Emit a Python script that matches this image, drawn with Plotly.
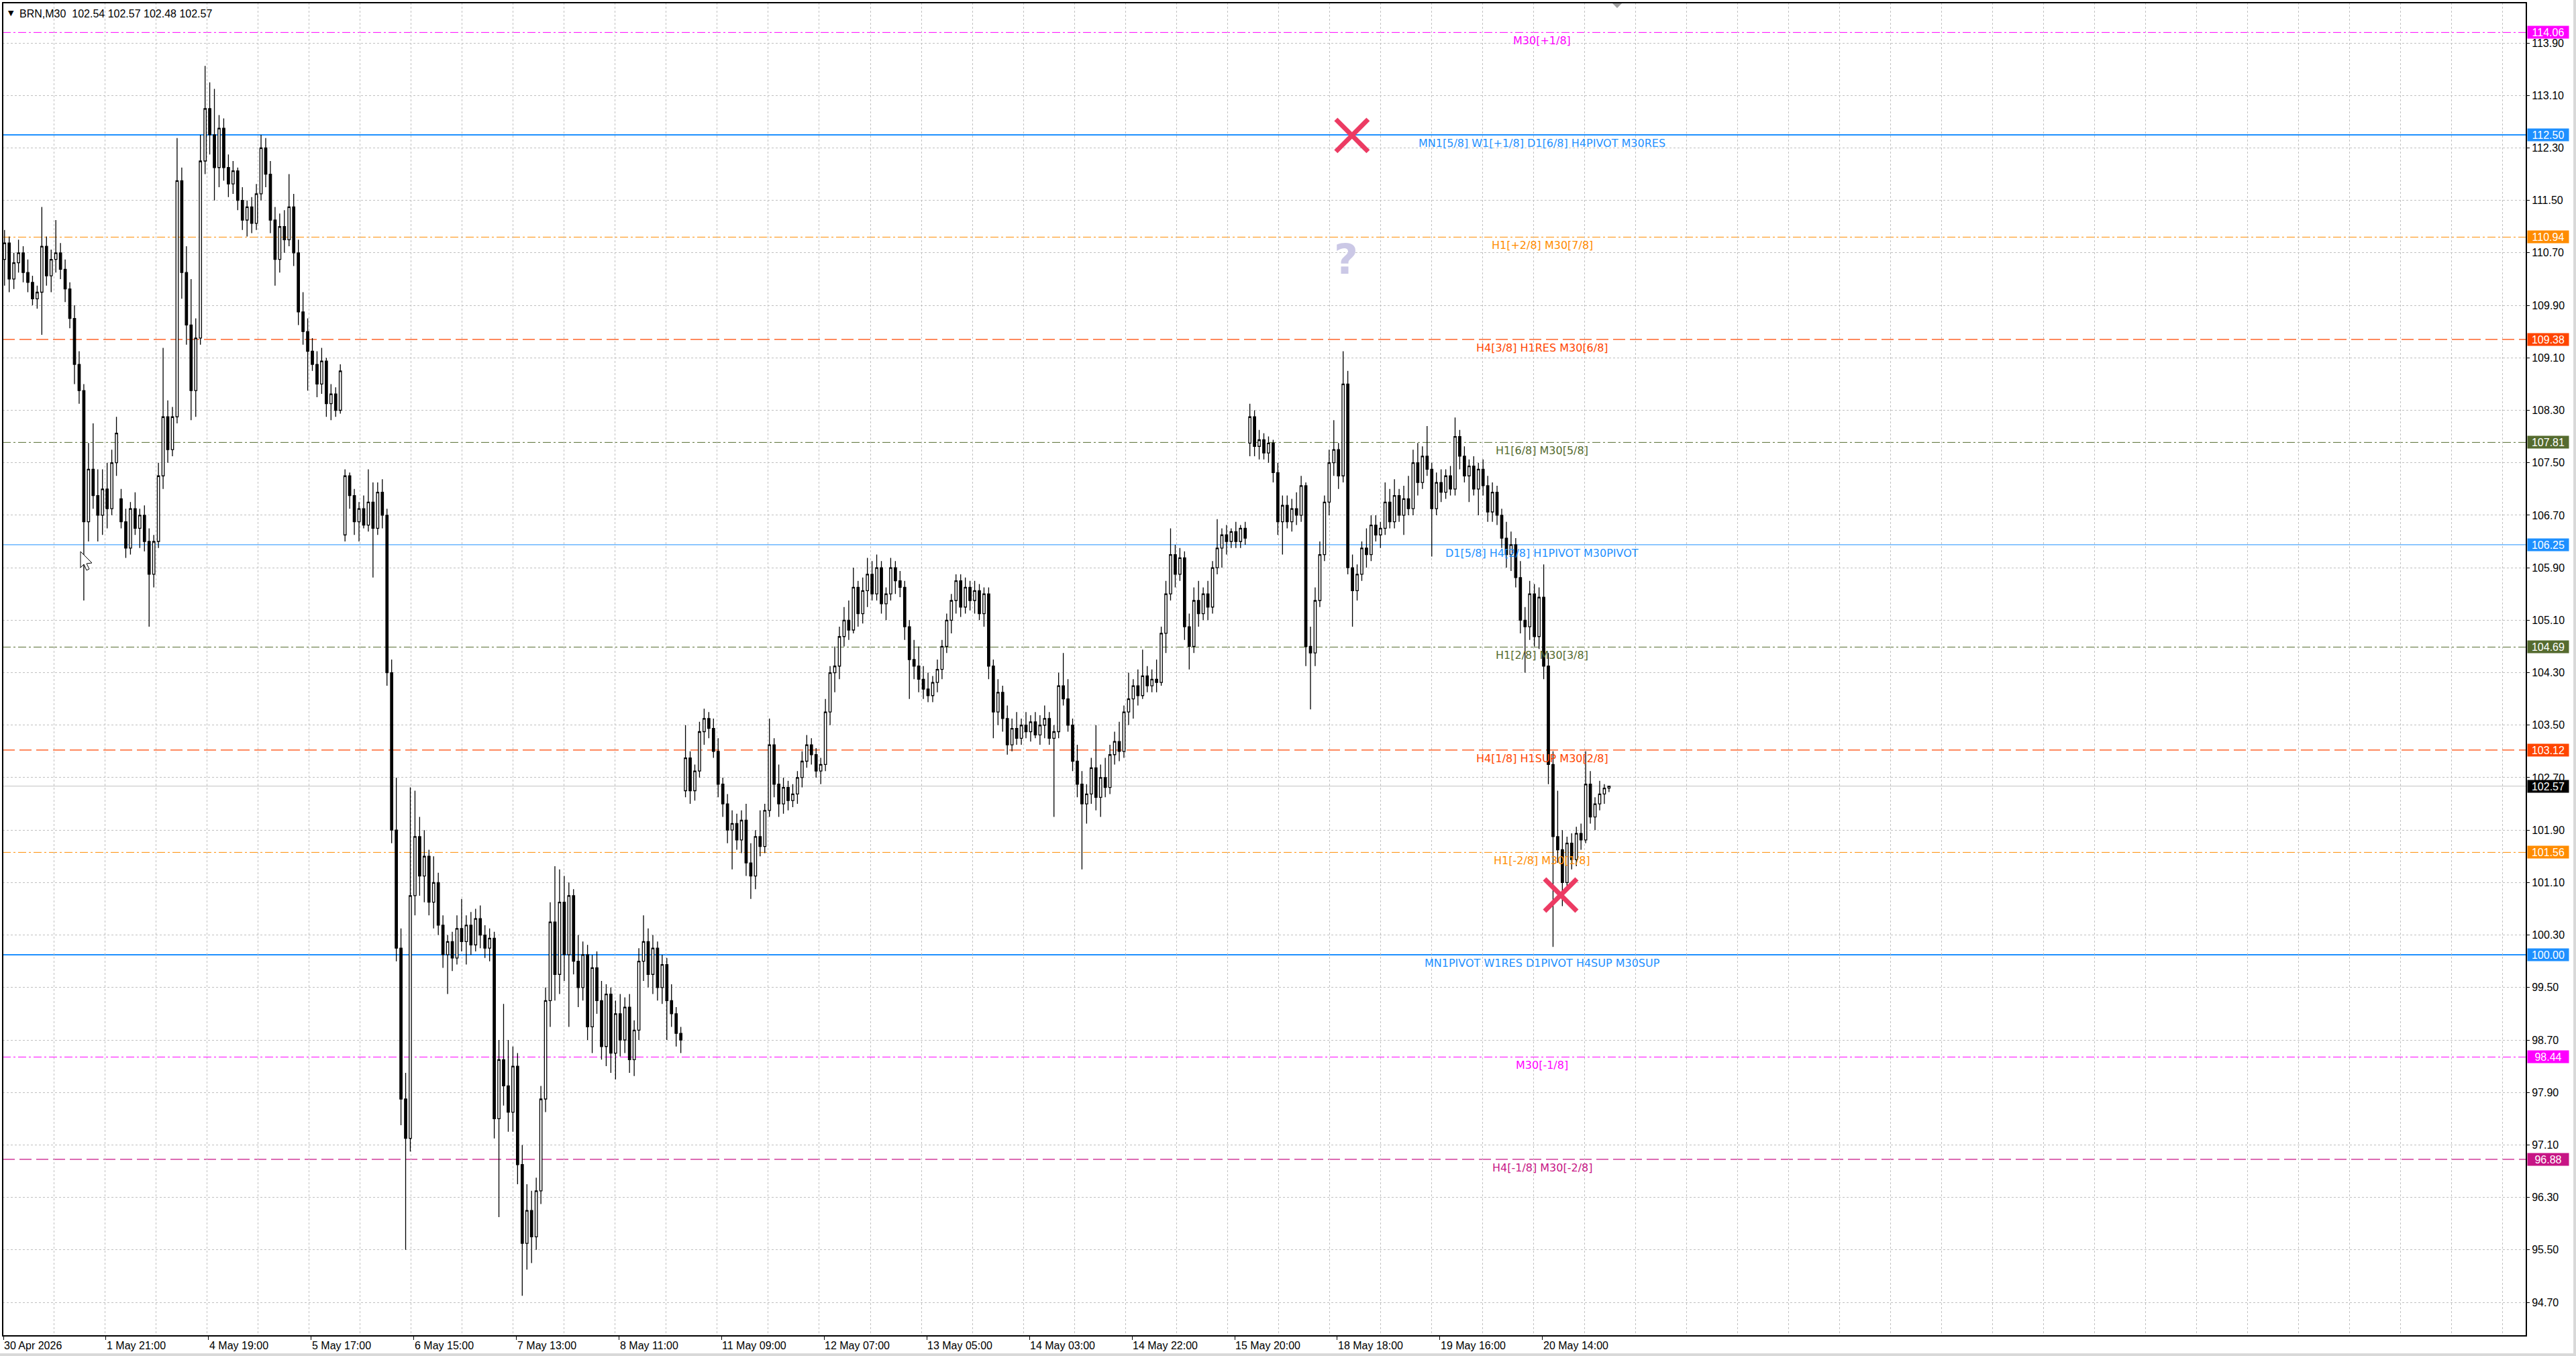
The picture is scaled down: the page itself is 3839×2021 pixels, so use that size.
import plotly.graph_objects as go

# ---------------- data (BRN, M30 — one candle per two M30 bars, last one is the live bar) -------------
opens = [
    110.60,110.85,110.30,110.55,110.70,110.40,110.25,110.00,110.10,110.80,
    110.35,110.60,110.70,110.45,110.15,109.70,109.00,108.60,106.60,107.40,
    107.00,106.70,107.10,106.80,107.50,106.95,106.60,106.20,106.80,106.50,
    106.70,106.30,105.80,106.30,107.30,108.20,107.70,108.20,111.80,110.40,
    109.60,108.60,109.40,112.10,112.90,112.50,112.00,112.60,112.00,111.75,
    111.95,111.50,111.20,111.40,111.15,111.60,112.30,111.90,111.20,110.60,
    111.10,110.90,111.40,110.70,109.80,109.50,109.20,109.00,108.70,109.05,
    108.40,108.55,108.30,106.40,107.30,107.00,106.60,106.80,106.55,106.90,
    106.50,107.05,106.70,104.30,101.90,100.10,97.80,97.20,100.90,101.80,
    101.20,101.50,100.80,101.10,100.45,100.00,100.20,99.95,100.40,100.20,
    100.45,100.15,100.55,100.30,100.10,100.25,97.50,98.40,98.00,97.60,
    98.30,96.80,95.60,96.10,95.70,96.40,97.80,99.30,100.50,99.70,
    100.80,100.00,100.90,99.90,99.50,100.00,98.90,99.80,99.30,98.60,
    99.40,98.50,99.10,98.70,99.20,98.40,98.85,99.90,100.20,99.70,
    100.10,99.50,99.85,99.30,99.10,98.80,102.50,103.00,102.50,102.80,
    103.40,103.60,103.45,103.10,102.60,102.30,101.90,102.00,101.75,102.05,
    101.40,101.20,101.80,101.65,102.20,103.20,102.60,102.30,102.55,102.35,
    102.45,102.70,102.95,103.20,103.05,102.80,102.90,103.70,104.30,104.40,
    104.85,105.10,104.95,105.60,105.20,105.55,105.80,105.50,105.90,105.35,
    105.50,105.90,105.70,105.60,105.00,104.50,104.40,104.20,104.05,103.95,
    104.15,104.35,104.70,105.10,105.40,105.70,105.30,105.60,105.40,105.55,
    105.20,105.50,104.40,103.70,104.00,103.60,103.20,103.45,103.30,103.50,
    103.40,103.55,103.35,103.50,103.60,103.30,103.40,104.10,103.90,103.50,
    102.95,102.60,102.30,102.45,102.85,102.40,102.70,102.55,103.05,103.25,
    103.10,103.70,103.90,104.10,103.95,104.25,104.10,104.20,104.15,104.90,
    105.50,106.10,105.80,106.05,105.00,104.70,105.40,105.20,105.50,105.30,
    105.90,106.20,106.40,106.30,106.45,106.30,106.50,107.80,108.20,107.75,
    107.85,107.65,107.80,107.35,106.60,106.85,106.60,106.80,106.70,107.15,
    104.70,104.60,105.40,106.10,106.90,107.50,107.70,107.30,108.70,105.90,
    105.55,105.80,106.20,106.10,106.55,106.40,106.50,106.90,106.60,107.00,
    106.70,106.95,106.80,107.50,107.20,107.60,107.40,106.80,107.20,107.05,
    107.30,107.10,107.90,107.60,107.30,107.45,107.10,107.40,107.15,106.75,
    107.05,106.70,106.35,106.10,106.25,105.75,105.10,105.00,105.50,104.85,
    105.45,104.40,102.90,101.80,101.60,101.10,101.70,101.45,101.85,101.75,
    102.60,102.10,102.30,102.45,102.54,
]
highs = [
    111.05,110.95,110.70,110.90,110.80,110.60,110.35,110.20,111.40,110.95,
    110.75,111.20,110.85,110.60,110.25,109.90,109.20,108.70,107.80,108.10,
    107.40,107.40,107.50,107.70,108.20,107.10,106.80,106.90,107.05,106.80,
    106.85,106.50,106.40,107.50,109.25,108.45,108.35,112.45,112.00,110.80,
    110.30,109.70,112.50,113.55,113.30,113.20,112.80,112.75,112.20,112.10,
    112.00,111.70,111.50,111.55,111.75,112.50,112.45,112.10,111.40,111.30,
    111.35,111.90,111.60,110.90,110.10,109.70,109.40,109.20,109.25,109.10,
    108.70,108.65,109.00,107.40,107.35,107.10,106.90,107.00,107.40,107.20,
    107.20,107.25,106.80,104.50,102.70,100.40,98.20,102.55,102.50,102.10,
    101.90,101.60,101.50,101.25,100.60,100.30,100.35,100.60,100.85,100.60,
    100.65,100.70,100.75,100.45,100.40,100.35,98.70,99.25,98.70,98.60,
    98.50,97.10,96.50,96.40,96.60,98.00,99.50,100.80,101.35,101.30,
    101.20,101.10,101.00,100.30,100.20,100.15,100.00,100.05,99.60,99.55,
    99.50,99.30,99.40,99.35,99.40,99.00,100.10,100.60,100.40,100.30,
    100.20,100.00,99.95,99.55,99.20,98.90,103.50,103.10,102.90,103.55,
    103.75,103.70,103.60,103.30,102.70,102.45,102.20,102.15,102.20,102.30,
    101.70,101.90,102.20,102.30,103.60,103.30,102.90,102.70,102.65,102.60,
    102.80,103.10,103.35,103.30,103.15,103.00,103.90,104.40,104.70,105.00,
    105.30,105.40,105.90,105.70,105.75,106.05,106.00,106.10,106.00,105.60,
    106.05,106.00,105.85,105.70,105.10,104.80,104.70,104.40,104.30,104.25,
    104.50,104.80,105.20,105.50,105.80,105.80,105.75,105.70,105.70,105.65,
    105.60,105.60,104.50,104.20,104.10,103.80,103.60,103.70,103.60,103.70,
    103.65,103.70,103.65,103.80,103.70,103.50,104.30,104.60,104.20,103.60,
    103.20,102.80,102.60,103.00,103.50,102.90,103.00,103.20,103.40,103.55,
    103.80,104.30,104.20,104.35,104.65,104.40,104.35,104.50,105.00,105.70,
    106.50,106.25,106.20,106.15,105.20,105.60,105.70,105.60,105.70,106.00,
    106.64,106.50,106.55,106.50,106.60,106.55,106.60,108.40,108.30,108.00,
    107.95,107.90,107.85,107.50,107.00,107.00,106.95,107.05,107.30,107.20,
    105.00,105.60,106.30,107.00,107.70,108.15,107.80,109.20,108.90,106.10,
    105.95,106.30,106.50,106.70,106.70,106.60,107.20,107.10,107.25,107.10,
    107.15,107.30,107.70,107.80,107.75,108.06,107.50,107.35,107.40,107.40,
    107.45,108.19,108.00,107.75,107.55,107.60,107.50,107.55,107.30,107.20,
    107.15,106.80,106.60,106.45,106.35,106.00,105.30,105.70,105.65,105.60,
    105.95,104.60,103.10,102.50,101.90,101.80,101.85,101.95,102.00,103.10,
    102.80,102.40,102.65,102.60,102.57,
]
lows = [
    110.20,110.10,110.15,110.40,110.25,110.10,109.90,109.85,109.45,110.20,
    110.10,110.40,110.30,109.95,109.55,108.70,108.40,105.40,106.30,106.80,
    106.30,106.40,106.50,106.70,107.30,106.50,106.05,106.10,106.40,106.20,
    106.15,105.00,105.60,106.20,107.10,107.50,107.60,108.10,110.00,109.30,
    108.15,108.20,109.30,111.90,112.20,111.50,111.70,111.80,111.55,111.60,
    111.35,111.05,110.95,111.00,111.05,111.50,111.70,111.00,110.20,110.40,
    110.70,110.80,110.50,109.60,109.30,108.60,108.90,108.50,108.55,108.20,
    108.15,108.20,108.25,106.30,106.80,106.40,106.30,106.50,106.45,105.75,
    106.40,106.50,104.10,101.70,99.90,97.40,95.50,97.00,100.60,100.90,
    100.80,100.60,100.40,100.30,99.80,99.40,99.75,99.85,100.05,99.85,
    100.00,100.05,100.10,99.95,99.90,97.20,96.00,97.70,97.30,97.30,
    96.50,94.80,95.20,95.30,95.50,96.20,97.60,98.90,99.30,99.40,
    99.60,98.90,99.70,99.20,99.30,98.70,98.50,99.10,98.40,98.30,
    98.20,98.10,98.45,98.50,98.20,98.15,98.70,99.60,99.50,99.40,
    99.30,99.25,98.70,98.90,98.60,98.50,102.40,102.30,102.35,102.70,
    103.20,103.30,103.00,102.40,102.10,101.70,101.30,101.60,101.55,101.20,
    100.85,101.00,101.50,101.55,102.10,102.40,102.10,102.15,102.20,102.25,
    102.30,102.55,102.85,102.90,102.70,102.60,102.80,103.50,104.00,104.20,
    104.70,104.80,104.90,105.00,105.05,105.30,105.40,105.40,105.20,105.10,
    105.40,105.50,105.45,104.80,103.90,104.20,104.00,103.90,103.85,103.85,
    104.00,104.20,104.60,104.90,105.20,105.15,105.20,105.25,105.20,105.10,
    105.00,104.20,103.30,103.50,103.40,103.05,103.10,103.20,103.20,103.30,
    103.25,103.30,103.20,103.30,103.20,102.10,103.30,103.80,103.40,102.80,
    102.40,101.30,102.00,102.30,102.20,102.10,102.40,102.45,102.90,102.95,
    103.00,103.50,103.60,103.80,103.90,104.00,104.00,104.00,104.10,104.60,
    105.40,105.60,105.70,104.80,104.35,104.60,105.00,105.10,105.10,105.20,
    105.80,105.90,106.10,106.20,106.20,106.20,106.25,107.60,107.60,107.55,
    107.55,107.50,107.20,106.40,106.10,106.50,106.45,106.55,106.60,104.40,
    103.74,104.40,105.30,106.00,106.70,107.30,107.10,107.20,105.80,105.00,
    105.40,105.70,105.90,106.00,106.30,106.20,106.40,106.50,106.50,106.60,
    106.40,106.70,106.70,107.00,107.10,107.30,106.07,106.70,106.90,106.95,
    107.00,107.00,107.40,107.20,106.90,107.00,106.70,107.00,106.60,106.60,
    106.55,106.20,105.90,105.85,105.60,104.90,104.30,104.80,104.70,104.66,
    104.20,102.60,100.12,101.40,100.74,101.00,101.30,101.35,101.60,101.70,
    102.00,101.90,102.20,102.30,102.48,
]
closes = [
    110.85,110.30,110.55,110.70,110.40,110.25,110.00,110.10,110.80,110.35,
    110.60,110.70,110.45,110.15,109.70,109.00,108.60,106.60,107.40,107.00,
    106.70,107.10,106.80,107.50,107.95,106.60,106.20,106.80,106.50,106.70,
    106.30,105.80,106.30,107.30,108.20,107.70,108.20,111.80,110.40,109.60,
    108.60,109.40,112.10,112.90,112.50,112.00,112.60,112.00,111.75,111.95,
    111.50,111.20,111.40,111.15,111.60,112.30,111.90,111.20,110.60,111.10,
    110.90,111.40,110.70,109.80,109.50,109.20,109.00,108.70,109.05,108.40,
    108.55,108.30,108.90,107.30,107.00,106.60,106.80,106.55,106.90,106.50,
    107.05,106.70,104.30,101.90,100.10,97.80,97.20,100.90,101.80,101.20,
    101.50,100.80,101.10,100.45,100.00,100.20,99.95,100.40,100.20,100.45,
    100.15,100.55,100.30,100.10,100.25,97.50,98.40,98.00,97.60,98.30,
    96.80,95.60,96.10,95.70,96.40,97.80,99.30,100.50,99.70,100.80,
    100.00,100.90,99.90,99.50,100.00,98.90,99.80,99.30,98.60,99.40,
    98.50,99.10,98.70,99.20,98.40,98.85,99.90,100.20,99.70,100.10,
    99.50,99.85,99.30,99.10,98.80,98.70,103.00,102.50,102.80,103.40,
    103.60,103.45,103.10,102.60,102.30,101.90,102.00,101.75,102.05,101.40,
    101.20,101.80,101.65,102.20,103.20,102.60,102.30,102.55,102.35,102.45,
    102.70,102.95,103.20,103.05,102.80,102.90,103.70,104.30,104.40,104.85,
    105.10,104.95,105.60,105.20,105.55,105.80,105.50,105.90,105.35,105.50,
    105.90,105.70,105.60,105.00,104.50,104.40,104.20,104.05,103.95,104.15,
    104.35,104.70,105.10,105.40,105.70,105.30,105.60,105.40,105.55,105.20,
    105.50,104.40,103.70,104.00,103.60,103.20,103.45,103.30,103.50,103.40,
    103.55,103.35,103.50,103.60,103.30,103.40,104.10,103.90,103.50,102.95,
    102.60,102.30,102.45,102.85,102.40,102.70,102.55,103.05,103.25,103.10,
    103.70,103.90,104.10,103.95,104.25,104.10,104.20,104.15,104.90,105.50,
    106.10,105.80,106.05,105.00,104.70,105.40,105.20,105.50,105.30,105.90,
    106.20,106.40,106.30,106.45,106.30,106.50,106.35,108.20,107.75,107.85,
    107.65,107.80,107.35,106.60,106.85,106.60,106.80,106.70,107.15,104.70,
    104.60,105.40,106.10,106.90,107.50,107.70,107.30,108.70,105.90,105.55,
    105.80,106.20,106.10,106.55,106.40,106.50,106.90,106.60,107.00,106.70,
    106.95,106.80,107.50,107.20,107.60,107.40,106.80,107.20,107.05,107.30,
    107.10,107.90,107.60,107.30,107.45,107.10,107.40,107.15,106.75,107.05,
    106.70,106.35,106.10,106.25,105.75,105.10,105.00,105.50,104.85,105.45,
    104.40,102.90,101.80,101.60,101.10,101.70,101.45,101.85,101.75,102.60,
    102.10,102.30,102.45,102.54,102.57,
]

date_labels = ["30 Apr 2026", "1 May 21:00", "4 May 19:00", "5 May 17:00", "6 May 15:00",
               "7 May 13:00", "8 May 11:00", "11 May 09:00", "12 May 07:00", "13 May 05:00",
               "14 May 03:00", "14 May 22:00", "15 May 20:00", "18 May 18:00", "19 May 16:00",
               "20 May 14:00"]
bars_per_label = 44

level_prices = [114.06, 112.50, 110.94, 109.38, 107.81, 106.25, 104.69, 103.12, 101.56, 100.00, 98.44, 96.88]
level_names = ["M30[+1/8]", "MN1[5/8] W1[+1/8] D1[6/8] H4PIVOT M30RES", "H1[+2/8] M30[7/8]",
               "H4[3/8] H1RES M30[6/8]", "H1[6/8] M30[5/8]", "D1[5/8] H4[2/8] H1PIVOT M30PIVOT",
               "H1[2/8] M30[3/8]", "H4[1/8] H1SUP M30[2/8]", "H1[-2/8] M30[1/8]",
               "MN1PIVOT W1RES D1PIVOT H4SUP M30SUP", "M30[-1/8]", "H4[-1/8] M30[-2/8]"]
level_colors = ["#FF00FF", "#1E90FF", "#FF8C00", "#FF4500", "#556B2F", "#1E90FF",
                "#556B2F", "#FF4500", "#FF8C00", "#1E90FF", "#FF00FF", "#C71585"]
level_styles = ["dashdot", "thick", "dashdot", "dash", "dashdot", "thin",
                "dashdot", "dash", "dashdot", "thick", "dashdot", "dash"]

last_price = 102.57
title_text = "BRN,M30\u00a0\u00a0102.54 102.57 102.48 102.57"

# marker objects on the chart: (bar index, price)
cross_marks = [(578.3, 112.49), (667.8, 100.91)]
question_mark = (575.7, 110.60)

# ---------------- geometry ----------------
W, H = 3839, 2021
PL, PR, PT, PB = 4, 3765, 4, 1991          # plot area in pixels
BAR_PX = 3.4755                            # pixels per M30 bar
X0_PX = 5.0                                # pixel of bar 0
YMIN, YMAX = 94.189, 114.514
PX_PER_PRICE = (PB - PT) / (YMAX - YMIN)

def bx(px):
    return (px - X0_PX) / BAR_PX

xs = [2 * i + 0.5 for i in range(len(closes))]

fig = go.Figure()
fig.add_trace(go.Candlestick(
    x=xs, open=opens, high=highs, low=lows, close=closes,
    increasing=dict(line=dict(color="black", width=1.3), fillcolor="white"),
    decreasing=dict(line=dict(color="black", width=1.3), fillcolor="black"),
    whiskerwidth=0, showlegend=False, hoverinfo="skip",
))

shapes = []
annotations = []

dash_map = {"dashdot": "12px,4px,3px,4px", "dash": "18px,7px", "thick": "solid", "thin": "solid"}
width_map = {"dashdot": 1, "dash": 1.2, "thick": 2, "thin": 1}

# current price line
shapes.append(dict(type="line", xref="paper", x0=0, x1=1, yref="y", y0=last_price, y1=last_price,
                   line=dict(color="#C0C0C0", width=1), layer="between"))

label_x = bx(2298)
for p, name, col, sty in zip(level_prices, level_names, level_colors, level_styles):
    shapes.append(dict(type="line", xref="paper", x0=0, x1=1, yref="y", y0=p, y1=p,
                       line=dict(color=col, width=width_map[sty], dash=dash_map[sty]), layer="between"))
    annotations.append(dict(x=label_x, y=p, xref="x", yref="y", text=name, showarrow=False,
                            xanchor="center", yanchor="top", yshift=-1,
                            font=dict(family="DejaVu Sans", size=16, color=col)))
    annotations.append(dict(x=1, y=p, xref="paper", yref="y", text="%.2f" % p, showarrow=False,
                            xanchor="left", yanchor="middle", xshift=1, width=56, height=13,
                            borderpad=2.5, align="center", bgcolor=col,
                            font=dict(family="Liberation Sans", size=16, color="white")))

annotations.append(dict(x=1, y=last_price, xref="paper", yref="y", text="%.2f" % last_price,
                        showarrow=False, xanchor="left", yanchor="middle", xshift=1, width=56,
                        height=13, borderpad=2.5, align="center", bgcolor="black",
                        font=dict(family="Liberation Sans", size=16, color="white")))

# pink crosses
hx, hy = 24 / BAR_PX, 24 / PX_PER_PRICE
for cx, cy in cross_marks:
    for sgn in (1, -1):
        shapes.append(dict(type="line", xref="x", yref="y", x0=cx - hx, x1=cx + hx,
                           y0=cy - sgn * hy, y1=cy + sgn * hy,
                           line=dict(color="#EC3B63", width=7), layer="above"))

annotations.append(dict(x=question_mark[0], y=question_mark[1], xref="x", yref="y", text="<b>?</b>",
                        showarrow=False, xanchor="center", yanchor="middle",
                        font=dict(family="DejaVu Sans", size=62, color="#CBC8E6")))

# chart-shift triangle at the top
tx = bx(2410)
tw = 8 / BAR_PX
th = 8 / (PB - PT)
shapes.append(dict(type="path", xref="x", yref="paper",
                   path=f"M {tx - tw} 1 L {tx + tw} 1 L {tx} {1 - th} Z",
                   fillcolor="#A0A0A0", line=dict(width=0), layer="above"))

# mouse cursor
def pp(px, py):
    return ((px - PL) / (PR - PL), 1 - (py - PT) / (PB - PT))
cur = [(120, 822), (120, 846), (125, 841), (129, 850), (133, 848), (129, 840), (137, 839)]
cpath = "M " + " L ".join("%.5f %.5f" % pp(a, b) for a, b in cur) + " Z"
shapes.append(dict(type="path", xref="paper", yref="paper", path=cpath, fillcolor="white",
                   line=dict(color="black", width=1), layer="above"))

# plot frame
shapes.append(dict(type="rect", xref="paper", yref="paper", x0=0, x1=1, y0=0, y1=1,
                   line=dict(color="black", width=2), layer="above"))
# window edges
shapes.append(dict(type="line", xref="paper", yref="paper", x0=pp(3837, 0)[0], x1=pp(3837, 0)[0],
                   y0=pp(0, 2021)[1], y1=pp(0, 0)[1], line=dict(color="#D9D9D9", width=4)))
shapes.append(dict(type="line", xref="paper", yref="paper", x0=pp(0, 0)[0], x1=pp(3839, 0)[0],
                   y0=pp(0, 2019)[1], y1=pp(0, 2019)[1], line=dict(color="#D9D9D9", width=4)))

# title
annotations.append(dict(x=0, y=1, xref="paper", yref="paper", text="\u25bc", showarrow=False,
                        xanchor="left", yanchor="top", xshift=6, yshift=-7,
                        font=dict(family="DejaVu Sans", size=11, color="black")))
annotations.append(dict(x=0, y=1, xref="paper", yref="paper", text=title_text, showarrow=False,
                        xanchor="left", yanchor="top", xshift=23, yshift=-6,
                        font=dict(family="Liberation Sans", size=16, color="black")))

# time labels
tick_bars = [bars_per_label * k for k in range(len(date_labels))]
for tb, lab in zip(tick_bars, date_labels):
    annotations.append(dict(x=tb, y=0, xref="x", yref="paper", text=lab, showarrow=False,
                            xanchor="left", yanchor="top", xshift=-1, yshift=-4,
                            font=dict(family="Liberation Sans", size=16, color="black")))

grid_bars = [bx(4.5 + 76.03 * n) for n in range(50)]

fig.update_layout(
    width=W, height=H,
    margin=dict(l=PL, r=W - PR, t=PT, b=H - PB, pad=0),
    paper_bgcolor="white", plot_bgcolor="white",
    font=dict(family="Liberation Sans", size=16, color="black"),
    showlegend=False,
    shapes=shapes, annotations=annotations,
    xaxis=dict(range=[bx(PL), bx(PR)], tickmode="array", tickvals=tick_bars,
               showticklabels=False, ticks="outside", ticklen=5, tickcolor="black",
               showgrid=False, zeroline=False, showline=False,
               minor=dict(tickmode="array", tickvals=grid_bars, showgrid=True,
                          gridcolor="#C0C0C0", griddash="3px,3px", gridwidth=1, ticks=""),
               rangeslider=dict(visible=False), fixedrange=True),
    yaxis=dict(range=[YMIN, YMAX], side="right", tickmode="linear", tick0=94.70, dtick=0.80,
               tickformat=".2f", ticks="outside", ticklen=4, tickcolor="black",
               tickfont=dict(family="Liberation Sans", size=16, color="black"),
               showgrid=True, gridcolor="#C0C0C0", griddash="3px,3px", gridwidth=1,
               zeroline=False, showline=False, fixedrange=True),
)

fig.write_html("out.html", config={"displayModeBar": False},
               post_script="document.body.style.margin='0';document.body.style.overflow='hidden';")
